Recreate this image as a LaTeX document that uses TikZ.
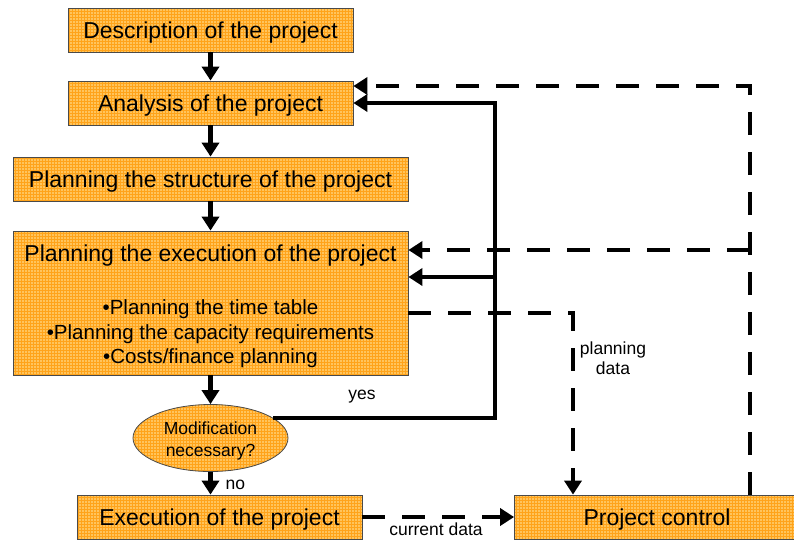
\documentclass[tikz,border=0pt]{standalone}
\usepackage{fontspec}
\setmainfont{Liberation Sans}
\usetikzlibrary{arrows.meta,patterns,shapes.geometric,calc}
\definecolor{boxfill}{HTML}{FFC45C}
\definecolor{gridc}{HTML}{FFA31A}
\definecolor{boxline}{HTML}{4A4A4A}
\tikzset{
  box/.style={draw=boxline, line width=0.8pt, preaction={fill=boxfill}, pattern=grid, pattern color=gridc, inner sep=0pt, minimum height=44pt},
  flow/.style={line width=4.5pt, -{Triangle[length=14pt,width=17pt]}},
  dflow/.style={flow, dash pattern=on 23pt off 17pt},
  big/.style={font=\fontsize{23}{27}\selectfont},
  bigbox/.style={big, text height=19pt, text depth=2pt},
  mid/.style={font=\fontsize{20.5}{24.5}\selectfont},
  small/.style={font=\fontsize{17.5}{20}\selectfont},
  elltext/.style={font=\fontsize{17.5}{22}\selectfont}
}
\begin{document}
\begin{tikzpicture}[x=1pt,y=-1pt]
\useasboundingbox (0,0) rectangle (794,539);
\node[box, minimum width=285pt, bigbox] (desc) at (210.5,30) {Description of the project};
\node[box, minimum width=285pt, bigbox] (anal) at (210.5,103) {Analysis of the project};
\node[box, minimum width=395pt, bigbox] (struc) at (210.5,179) {Planning the structure of the project};
\node[box, minimum width=395pt, minimum height=144pt] (plan) at (210.5,303) {};
\node[big] (plantitle) at (210.5,256) {Planning the execution of the project};
\node[mid, align=center] (planlist) at (210.5,334) {•Planning the time table\\•Planning the capacity requirements\\•Costs/finance planning};
\node[box, ellipse, minimum width=155pt, minimum height=67pt] (modif) at (210.5,438) {};
\node[elltext, align=center] (modiftext) at (210.5,441) {Modification\\necessary?};
\node[box, minimum width=285pt, bigbox] (exec) at (219.5,517) {Execution of the project};
\node[box, minimum width=285pt, bigbox] (ctrl) at (657,517) {Project control};

\draw[flow] (desc) -- (anal);
\draw[flow] (anal) -- (struc);
\draw[flow] (struc) -- (plan);
\draw[flow] (plan) -- (modif);
\draw[flow] (modif.south) -- (modif.south |- exec.north);
\node[small, anchor=west] (nolab) at (222,485) {no};

\coordinate (yesA) at (273,418);
\coordinate (yesTop) at (495,103);
\coordinate (yesMid) at (495,277);
\draw[flow] (yesA) -| (yesTop) -- (anal.east);
\draw[flow] (yesMid) -- (yesMid -| plan.east);
\node[small] (yeslab) at (362,397) {yes};

\coordinate (fbX) at (750,86);
\coordinate (fbMid) at (750,250);
\draw[dflow] (ctrl.north -| fbX) -- (fbX) -- (fbX -| anal.east);
\draw[dflow] (fbMid) -- (fbMid -| plan.east);

\coordinate (pdCorner) at (573,313);
\draw[dflow] (pdCorner -| plan.east) -- (pdCorner) -- (pdCorner |- ctrl.north);
\node[small, align=center] (pdlab) at (613,358) {planning\\data};

\draw[dflow] (exec) -- (ctrl);
\node[small] (cdlab) at (436,529) {current data};
\end{tikzpicture}
\end{document}
